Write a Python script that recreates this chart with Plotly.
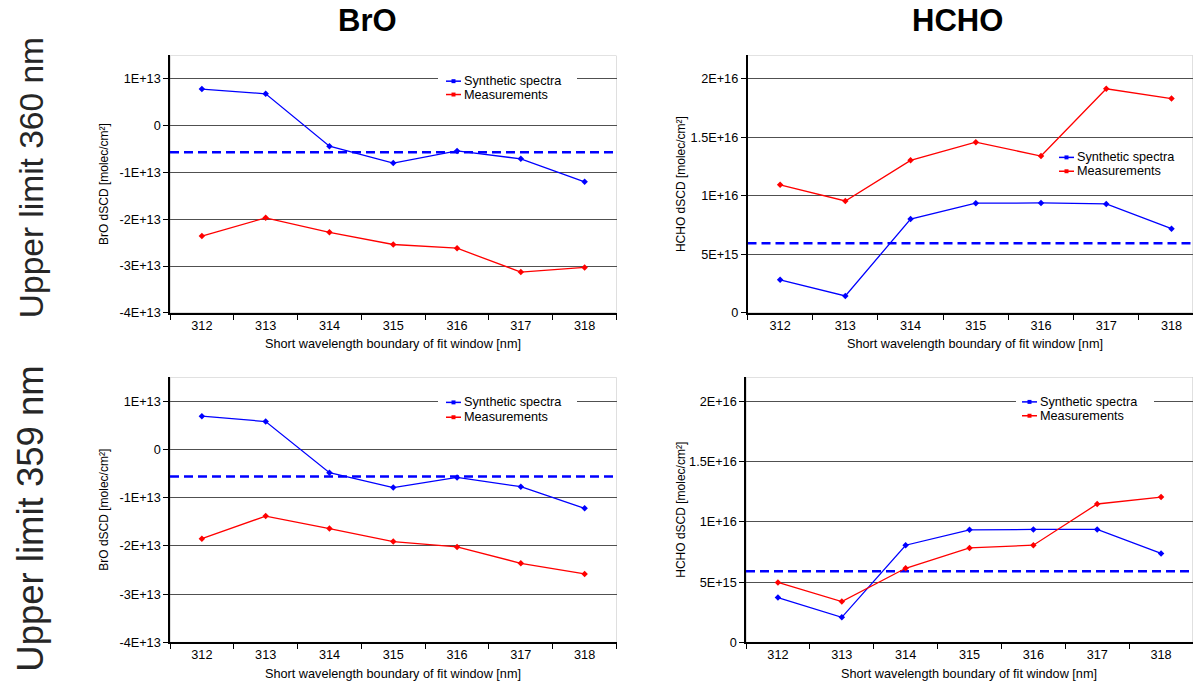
import plotly.graph_objects as go

W, H = 1193, 691

# ---------------- data ----------------
wavelengths = ["312", "313", "314", "315", "316", "317", "318"]

bro360_synthetic = [0.78e13, 0.68e13, -0.44e13, -0.80e13, -0.54e13, -0.71e13, -1.20e13]
bro360_measured = [-2.36e13, -1.97e13, -2.28e13, -2.54e13, -2.62e13, -3.13e13, -3.03e13]
bro360_reference = -0.57e13

hcho360_synthetic = [2.82e15, 1.44e15, 8.01e15, 9.37e15, 9.39e15, 9.31e15, 7.19e15]
hcho360_measured = [10.94e15, 9.56e15, 13.03e15, 14.58e15, 13.40e15, 19.15e15, 18.31e15]
hcho360_reference = 5.95e15

bro359_synthetic = [0.69e13, 0.58e13, -0.48e13, -0.79e13, -0.58e13, -0.77e13, -1.22e13]
bro359_measured = [-1.85e13, -1.38e13, -1.64e13, -1.91e13, -2.02e13, -2.36e13, -2.58e13]
bro359_reference = -0.56e13

hcho359_synthetic = [3.72e15, 2.08e15, 8.06e15, 9.34e15, 9.37e15, 9.37e15, 7.38e15]
hcho359_measured = [4.97e15, 3.39e15, 6.15e15, 7.84e15, 8.06e15, 11.48e15, 12.05e15]
hcho359_reference = 5.90e15

bro_tickvals = [-4e13, -3e13, -2e13, -1e13, 0, 1e13]
bro_ticktext = ["-4E+13", "-3E+13", "-2E+13", "-1E+13", "0", "1E+13"]
hcho_tickvals = [0, 5e15, 1e16, 1.5e16, 2e16]
hcho_ticktext = ["0", "5E+15", "1E+16", "1.5E+16", "2E+16"]

series_names = ["Synthetic spectra", "Measurements"]
col_titles = ["BrO", "HCHO"]
row_titles = ["Upper limit 360 nm", "Upper limit 359 nm"]
x_title = "Short wavelength boundary of fit window [nm]"
y_titles = ["BrO dSCD [molec/cm²]", "HCHO dSCD [molec/cm²]"]

BLUE = "#0000FF"
RED = "#FF0000"
FONT = "Arial, Liberation Sans, sans-serif"
FS = 12.7


def px_x(p):
    return p / W


def px_y(p):
    return 1 - p / H


panels = [
    dict(l=170, r=616.5, t=56, b=316, xmax=6.5, yr=[-4e13, 1.5e13], tv=bro_tickvals, tt=bro_ticktext,
         syn=bro360_synthetic, mea=bro360_measured, ref=bro360_reference, yt=y_titles[0], ytx=104,
         xtc=393, leg=dict(box=(438, 577), sx=(446, 461), ty=(82, 95.5))),
    dict(l=747.5, r=1193, t=56, b=316, xmax=6.33, yr=[0, 2.2e16], tv=hcho_tickvals, tt=hcho_ticktext,
         syn=hcho360_synthetic, mea=hcho360_measured, ref=hcho360_reference, yt=y_titles[1], ytx=681,
         xtc=975, leg=dict(box=(1052, 1185), sx=(1059, 1074), ty=(159, 173))),
    dict(l=170, r=616.5, t=381, b=649, xmax=6.5, yr=[-4e13, 1.5e13], tv=bro_tickvals, tt=bro_ticktext,
         syn=bro359_synthetic, mea=bro359_measured, ref=bro359_reference, yt=y_titles[0], ytx=104,
         xtc=393, leg=dict(box=(438, 577), sx=(446, 461), ty=(406.5, 421.5))),
    dict(l=746, r=1193, t=381, b=649, xmax=6.5, yr=[0, 2.2e16], tv=hcho_tickvals, tt=hcho_ticktext,
         syn=hcho359_synthetic, mea=hcho359_measured, ref=hcho359_reference, yt=y_titles[1], ytx=681,
         xtc=969, leg=dict(box=(1016, 1154), sx=(1022, 1037), ty=(406, 420))),
]

fig = go.Figure()
shapes = []
annotations = []
layout = {}

for i, p in enumerate(panels):
    n = "" if i == 0 else str(i + 1)
    xa, ya = "x" + n, "y" + n
    x0r, x1r = -0.5, p["xmax"]
    y0r, y1r = p["yr"]

    def dx(v, p=p, x0r=x0r, x1r=x1r):
        return x0r + (v - p["l"]) / (p["r"] - p["l"]) * (x1r - x0r)

    def dy(v, p=p, y0r=y0r, y1r=y1r):
        return y0r + (p["b"] - v) / (p["b"] - p["t"]) * (y1r - y0r)

    layout["xaxis" + n] = dict(
        domain=[px_x(p["l"]), min(1.0, px_x(p["r"]))], anchor=ya, type="category",
        range=[x0r, x1r], tickson="boundaries", ticks="outside", ticklen=5,
        tickcolor="black", tickwidth=1, showline=True, linecolor="black", linewidth=1.5,
        showgrid=False, zeroline=False, tickfont=dict(size=FS, color="black", family=FONT),
        fixedrange=True,
    )
    layout["yaxis" + n] = dict(
        domain=[px_y(p["b"]), px_y(p["t"])], anchor=xa, range=[y0r, y1r],
        tickvals=p["tv"], ticktext=p["tt"], ticks="outside", ticklen=5, tickcolor="black",
        tickwidth=1, showline=True, linecolor="black", linewidth=1.5, showgrid=True,
        gridcolor="#505050", gridwidth=1, zeroline=False,
        tickfont=dict(size=FS, color="black", family=FONT), fixedrange=True,
    )
    # plot area border (light gray top/right)
    shapes.append(dict(type="rect", xref=xa, yref=ya, x0=x0r, x1=x1r, y0=y0r, y1=y1r,
                       line=dict(color="#c0c0c0", width=1), layer="below"))
    # white background behind legend (covers gridline)
    lg = p["leg"]
    shapes.append(dict(type="rect", xref=xa, yref=ya,
                       x0=dx(lg["box"][0]), x1=dx(lg["box"][1]),
                       y0=dy(lg["ty"][1] + 8), y1=dy(lg["ty"][0] - 8),
                       fillcolor="white", line=dict(width=0), layer="between"))
    # reference dashed line
    shapes.append(dict(type="line", xref=xa, yref=ya, x0=x0r, x1=x1r, y0=p["ref"], y1=p["ref"],
                       line=dict(color=BLUE, width=2.4, dash="9px,5px"), layer="between"))
    for vals, color, name in [(p["syn"], BLUE, series_names[0]), (p["mea"], RED, series_names[1])]:
        fig.add_trace(go.Scatter(
            x=wavelengths, y=vals, mode="lines+markers", name=name, showlegend=False,
            xaxis=xa, yaxis=ya, line=dict(color=color, width=1.3),
            marker=dict(symbol="diamond", size=5, color=color),
        ))
    # custom legend entries
    for k, (name, color) in enumerate(zip(series_names, [BLUE, RED])):
        yy = lg["ty"][k]
        shapes.append(dict(type="line", xref="paper", yref="paper", x0=px_x(lg["sx"][0]), x1=px_x(lg["sx"][1]),
                           y0=px_y(yy), y1=px_y(yy), line=dict(color=color, width=1.5), layer="above"))
        cx = (lg["sx"][0] + lg["sx"][1]) / 2
        shapes.append(dict(type="rect", xref="paper", yref="paper",
                           x0=px_x(cx - 2), x1=px_x(cx + 2), y0=px_y(yy + 2), y1=px_y(yy - 2),
                           fillcolor=color, line=dict(color=color, width=0), layer="above"))
        annotations.append(dict(text=name, xref="paper", yref="paper", x=px_x(lg["sx"][1] + 1), y=px_y(yy),
                                xanchor="left", yanchor="middle", showarrow=False,
                                font=dict(size=FS, color="black", family=FONT)))
    # axis titles
    annotations.append(dict(text=x_title, xref="paper", yref="paper", x=px_x(p["xtc"]),
                            y=px_y(p["b"] + 32), xanchor="center", yanchor="middle", showarrow=False,
                            font=dict(size=FS, color="black", family=FONT)))
    annotations.append(dict(text=p["yt"], xref="paper", yref="paper", x=px_x(p["ytx"]),
                            y=px_y((p["t"] + p["b"]) / 2), xanchor="center", yanchor="middle",
                            textangle=-90, showarrow=False, font=dict(size=12, color="black", family=FONT)))

# column titles
for txt, cx in zip(col_titles, [367, 957]):
    annotations.append(dict(text="<b>" + txt + "</b>", xref="paper", yref="paper", x=px_x(cx), y=px_y(20.5),
                            xanchor="center", yanchor="middle", showarrow=False,
                            font=dict(size=31, color="black", family=FONT)))
# row titles
for txt, cy, fs in zip(row_titles, [180, 524], [33.5, 36.5]):
    annotations.append(dict(text=txt, xref="paper", yref="paper", x=px_x(31), y=px_y(cy),
                            xanchor="center", yanchor="middle", textangle=-90, showarrow=False,
                            font=dict(size=fs, color="#262626", family=FONT)))

fig.update_layout(
    width=W, height=H, margin=dict(l=0, r=0, t=0, b=0),
    paper_bgcolor="white", plot_bgcolor="white",
    shapes=shapes, annotations=annotations, showlegend=False,
    font=dict(family=FONT, color="black"),
    **layout,
)

# remove the default 8px page margin so the figure fills the window exactly
fig.write_html("out.html", config={"displayModeBar": False},
               post_script="document.body.style.margin='0px';")
